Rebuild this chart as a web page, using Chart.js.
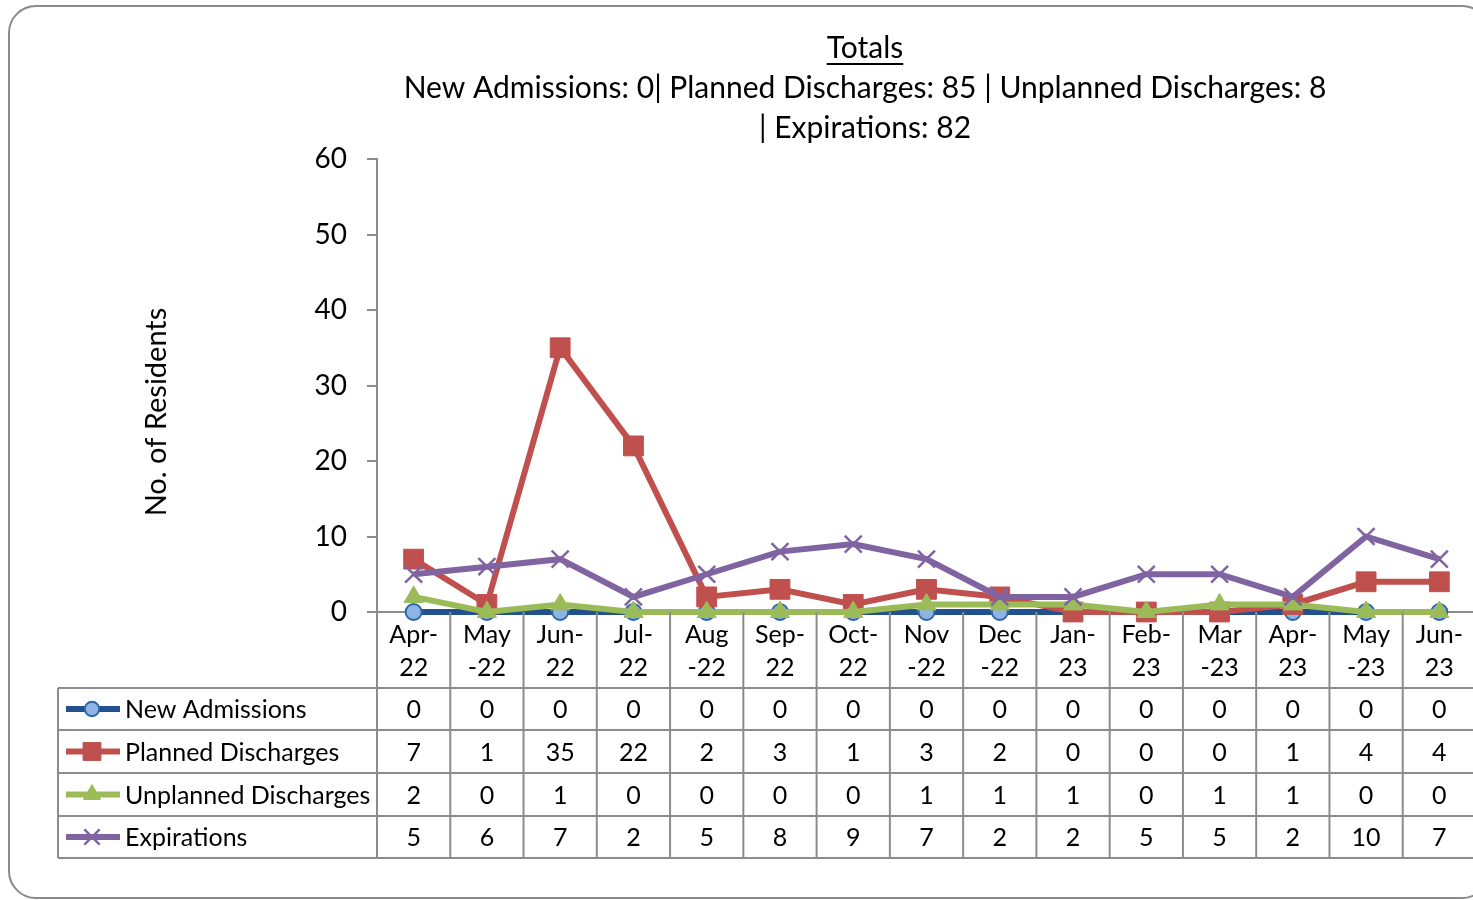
<!DOCTYPE html>
<html>
<head>
<meta charset="utf-8">
<script src="https://cdn.jsdelivr.net/npm/chart.js@4.4.0/dist/chart.umd.min.js"></script>
<style>
  html, body { margin: 0; padding: 0; background: #fff; overflow: hidden; width: 1473px; height: 900px; }
  #wrap { position: absolute; left: 0; top: 0; width: 1500px; height: 900px; }
  #frame { position: absolute; left: 8px; top: 5px; width: 1482px; height: 894px; border: 2px solid #8a8a8a;
           border-radius: 28px; box-sizing: border-box; }
  canvas { position: absolute; left: 0; top: 0; }
</style>
</head>
<body>
<div id="wrap">
  <div id="frame"></div>
  <canvas id="myCanvas" width="1500" height="900"></canvas>
</div>
<script>
// data
const months = [["Apr-", "22"], ["May", "-22"], ["Jun-", "22"], ["Jul-", "22"], ["Aug", "-22"],
  ["Sep-", "22"], ["Oct-", "22"], ["Nov", "-22"], ["Dec", "-22"], ["Jan-", "23"],
  ["Feb-", "23"], ["Mar", "-23"], ["Apr-", "23"], ["May", "-23"], ["Jun-", "23"]];
const newAdmissions = [0, 0, 0, 0, 0, 0, 0, 0, 0, 0, 0, 0, 0, 0, 0];
const plannedDischarges = [7, 1, 35, 22, 2, 3, 1, 3, 2, 0, 0, 0, 1, 4, 4];
const unplannedDischarges = [2, 0, 1, 0, 0, 0, 0, 1, 1, 1, 0, 1, 1, 0, 0];
const expirations = [5, 6, 7, 2, 5, 8, 9, 7, 2, 2, 5, 5, 2, 10, 7];
const seriesNames = ["New Admissions", "Planned Discharges", "Unplanned Discharges", "Expirations"];
const titleLines = ["Totals", "New Admissions: 0| Planned Discharges: 85 | Unplanned Discharges: 8", "| Expirations: 82"];
const yTitle = "No. of Residents";
const yTicks = [0, 10, 20, 30, 40, 50, 60];

const FONT = "Lato, 'Open Sans', sans-serif";
const gridGrey = "#8c8c8c";

// table rows under the plot
const tableLeft = 58;
const rowLines = [688, 730, 773, 816, 858];

function line(ctx, x1, y1, x2, y2) {
  ctx.beginPath();
  ctx.moveTo(x1, y1);
  ctx.lineTo(x2, y2);
  ctx.stroke();
}

const titlePlugin = {
  id: "topTitle",
  afterDraw(chart) {
    const ctx = chart.ctx;
    ctx.save();
    ctx.fillStyle = "#000";
    ctx.textAlign = "center";
    ctx.textBaseline = "middle";
    ctx.font = "30px " + FONT;
    const cx = 865;
    const ys = [48, 88, 128];
    titleLines.forEach((t, i) => ctx.fillText(t, cx, ys[i]));
    // underline "Totals"
    const w = ctx.measureText(titleLines[0]).width;
    ctx.fillRect(cx - w / 2, 63, w, 2);

    // vertical axis title
    ctx.translate(157, 412);
    ctx.rotate(-Math.PI / 2);
    ctx.font = "29px " + FONT;
    ctx.fillText(yTitle, 0, 0);
    ctx.restore();
  }
};

const tablePlugin = {
  id: "dataTable",
  afterDraw(chart) {
    const ctx = chart.ctx;
    const xs = chart.scales.x, ys = chart.scales.y;
    const step = xs.getPixelForValue(1) - xs.getPixelForValue(0);
    const axisY = ys.getPixelForValue(0);
    const right = xs.getPixelForValue(months.length - 1) + step / 2;
    const bottom = rowLines[rowLines.length - 1];
    ctx.save();
    ctx.strokeStyle = gridGrey;
    ctx.lineWidth = 2;
    rowLines.forEach(y => line(ctx, tableLeft, y, right, y));
    for (let i = 0; i <= months.length; i++) {
      const x = xs.getPixelForValue(i) - step / 2;
      line(ctx, x, axisY, x, bottom);
    }
    line(ctx, tableLeft, rowLines[0], tableLeft, bottom);

    chart.data.datasets.forEach((ds, r) => {
      const cy = (rowLines[r] + rowLines[r + 1]) / 2;
      // legend key
      ctx.strokeStyle = ds.borderColor;
      ctx.lineWidth = 6;
      line(ctx, 66, cy, 120, cy);
      ctx.fillStyle = ds.pointBackgroundColor;
      ctx.strokeStyle = ds.pointBorderColor;
      ctx.lineWidth = ds.pointBorderWidth;
      Chart.helpers.drawPoint(ctx, { pointStyle: ds.pointStyle, radius: ds.pointRadius * 0.9, rotation: 0, borderWidth: ds.pointBorderWidth }, 92, cy);
      ctx.fillStyle = "#000";
      ctx.font = "25px " + FONT;
      ctx.textAlign = "left";
      ctx.textBaseline = "middle";
      ctx.fillText(ds.label, 125, cy + 1);
      ctx.textAlign = "center";
      ds.data.forEach((v, i) => ctx.fillText(String(v), xs.getPixelForValue(i), cy + 1));
    });
    ctx.restore();
  }
};

new Chart(document.getElementById("myCanvas"), {
  type: "line",
  data: {
    labels: months,
    datasets: [
      {
        label: seriesNames[0], data: newAdmissions, order: 3,
        borderColor: "#23508f", borderWidth: 6,
        pointStyle: "circle", pointRadius: 8, pointBorderWidth: 2,
        pointBackgroundColor: "#8db4e2", pointBorderColor: "#2f66a8"
      },
      {
        label: seriesNames[1], data: plannedDischarges, order: 2,
        borderColor: "#c0504d", borderWidth: 6,
        pointStyle: "rect", pointRadius: 14, pointBorderWidth: 1,
        pointBackgroundColor: "#c0504d", pointBorderColor: "#c0504d"
      },
      {
        label: seriesNames[2], data: unplannedDischarges, order: 1,
        borderColor: "#9bbb59", borderWidth: 6,
        pointStyle: "triangle", pointRadius: 11, pointBorderWidth: 1,
        pointBackgroundColor: "#9bbb59", pointBorderColor: "#9bbb59"
      },
      {
        label: seriesNames[3], data: expirations, order: 0,
        borderColor: "#8064a2", borderWidth: 6,
        pointStyle: "crossRot", pointRadius: 12, pointBorderWidth: 2.5,
        pointBackgroundColor: "#8064a2", pointBorderColor: "#8064a2"
      }
    ]
  },
  options: {
    responsive: false,
    animation: false,
    layout: { padding: { left: 137, top: 159, right: 24, bottom: 212 } },
    elements: { line: { tension: 0 } },
    datasets: { line: { clip: false } },
    plugins: { legend: { display: false }, tooltip: { enabled: false }, title: { display: false } },
    scales: {
      x: {
        offset: true,
        grid: { display: true, drawOnChartArea: false, drawTicks: false, offset: true, color: "rgba(0,0,0,0)" },
        border: { display: true, color: gridGrey, width: 2 },
        ticks: {
          autoSkip: false, maxRotation: 0, minRotation: 0, padding: 6, color: "#000",
          font: { family: FONT, size: 25, lineHeight: 1.32 }
        },
        afterFit(scale) { scale.height = 76; }
      },
      y: {
        min: 0, max: 60,
        afterBuildTicks(scale) { scale.ticks = yTicks.map(v => ({ value: v })); },
        grid: { drawOnChartArea: false, drawTicks: true, tickLength: 10, color: gridGrey, lineWidth: 2 },
        border: { display: true, color: gridGrey, width: 2 },
        ticks: { padding: 20, color: "#000", font: { family: FONT, size: 28 } },
        title: { display: false },
        afterFit(scale) { scale.width = 240; }
      }
    }
  },
  plugins: [titlePlugin, tablePlugin]
});
</script>
</body>
</html>
